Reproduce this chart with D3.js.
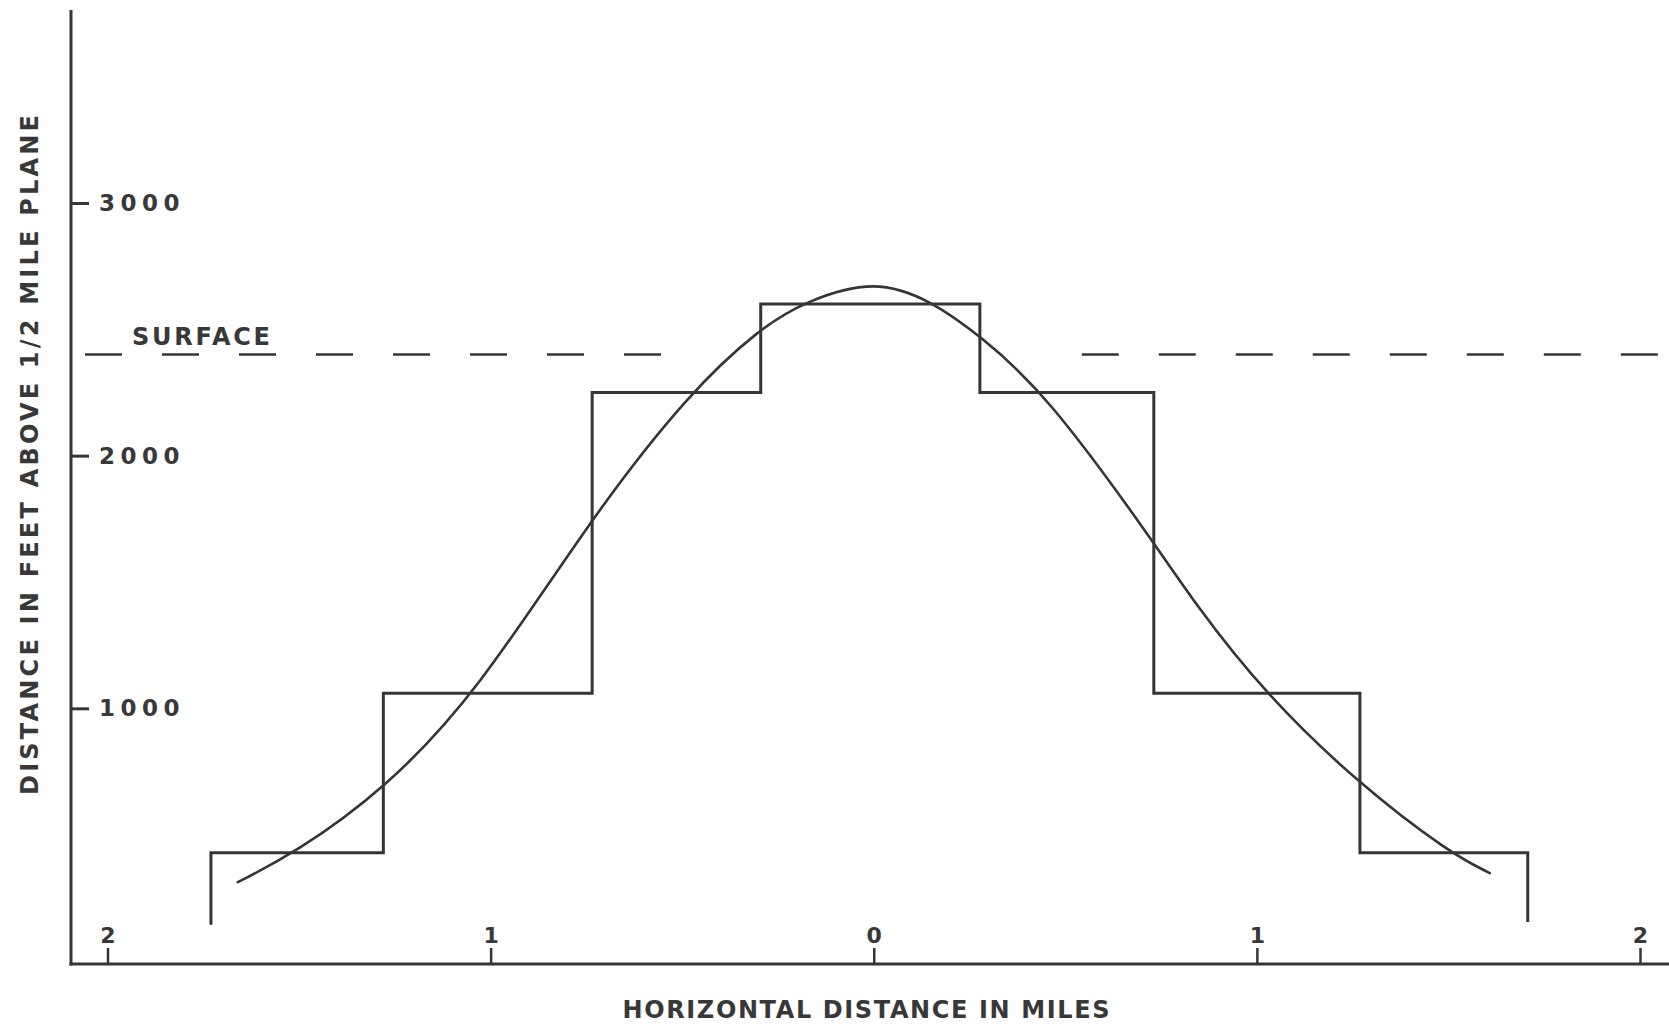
<!DOCTYPE html>
<html>
<head>
<meta charset="utf-8">
<script src="https://cdn.jsdelivr.net/npm/d3@7"></script>
<style>
  html, body { margin: 0; padding: 0; background: #fff; }
  svg { display: block; }
  text { font-family: "DejaVu Sans", sans-serif; fill: #383838; }
</style>
</head>
<body>
<div id="chart"></div>
<script>
// step profile: edges in miles, level (ft) of each block between edges
const stepEdges = [-1.73, -1.28, -0.735, -0.295, 0.277, 0.731, 1.269, 1.707];
const stepLevels = [428, 1060, 2250, 2600, 2250, 1060, 428];
const stepFoot = [143, 154];   // where the outer legs stop (left, right)

// smooth curve
const curveMiles = [-1.66, -1.511, -1.279, -1.036, -0.736, -0.48, -0.295, -0.18, 0.003, 0.154, 0.274, 0.447, 0.731, 0.831, 1.021, 1.269, 1.504, 1.608];
const curveFeet  = [312, 427, 676, 1060, 1758, 2252, 2506, 2610, 2700, 2610, 2478, 2252, 1658, 1429, 1057, 697, 427, 348];

// dashed surface line, broken over the dome
const surfaceLevel = 2400;
const surfaceGap = [-0.553, 0.543];

const yTicks = [1000, 2000, 3000];
const xTicks = [-2, -1, 0, 1, 2];
const xTickLabels = ["2", "1", "0", "1", "2"];

const width = 1669, height = 1026;
const ink = "#353535";

const svg = d3.select("#chart").append("svg")
  .attr("width", width)
  .attr("height", height);

const x = d3.scaleLinear().domain([-2, 2]).range([107.5, 1640]);
const y = d3.scaleLinear().domain([0, 3000]).range([961, 203]);

const axisX = 71;
const baseY = 964;   // drawn base line sits a touch below zero

// axis lines
svg.append("line")
  .attr("x1", axisX).attr("y1", 10)
  .attr("x2", axisX).attr("y2", baseY + 1.5)
  .attr("stroke", ink).attr("stroke-width", 3);
svg.append("line")
  .attr("x1", axisX - 1.5).attr("y1", baseY)
  .attr("x2", width).attr("y2", baseY)
  .attr("stroke", ink).attr("stroke-width", 3);

// y ticks (drawn inward, labels to the right)
const gy = svg.append("g")
  .attr("transform", `translate(${axisX},0)`)
  .call(d3.axisRight(y).tickValues(yTicks).tickSize(18).tickPadding(10).tickFormat(d3.format("d")));
gy.select(".domain").remove();
gy.selectAll(".tick line").attr("stroke", ink).attr("stroke-width", 3);
gy.selectAll(".tick text")
  .attr("font-size", 23)
  .attr("font-weight", "bold")
  .attr("letter-spacing", 5.5)
  .attr("fill", ink)
  .attr("font-family", "DejaVu Sans");

// x ticks (upward, labels above)
const gx = svg.append("g")
  .attr("transform", `translate(0,${baseY})`)
  .call(d3.axisTop(x).tickValues(xTicks).tickSize(16).tickPadding(5).tickFormat((d, i) => xTickLabels[i]));
gx.select(".domain").remove();
gx.selectAll(".tick line").attr("stroke", ink).attr("stroke-width", 2.5);
gx.selectAll(".tick text")
  .attr("font-size", 22)
  .attr("font-weight", "bold")
  .attr("fill", ink)
  .attr("font-family", "DejaVu Sans");

// surface dashed line
const dash = [37, 40];
function surfaceSeg(x0, x1, offset) {
  svg.append("line")
    .attr("x1", x0).attr("y1", y(surfaceLevel))
    .attr("x2", x1).attr("y2", y(surfaceLevel))
    .attr("stroke", ink).attr("stroke-width", 2.5)
    .attr("stroke-dasharray", dash.join(","))
    .attr("stroke-dashoffset", offset);
}
surfaceSeg(axisX, x(surfaceGap[0]), 63);
surfaceSeg(x(surfaceGap[1]), width, 0);

svg.append("text")
  .attr("x", 132).attr("y", y(surfaceLevel) - 10)
  .attr("font-size", 24).attr("font-weight", "bold")
  .attr("textLength", 138).attr("lengthAdjust", "spacing")
  .attr("fill", ink)
  .text("SURFACE");

// step profile
const stepPts = [[stepEdges[0], stepFoot[0]]];
stepLevels.forEach((lv, i) => {
  stepPts.push([stepEdges[i], lv]);
  stepPts.push([stepEdges[i + 1], lv]);
});
stepPts.push([stepEdges[stepEdges.length - 1], stepFoot[1]]);

svg.append("path")
  .datum(stepPts)
  .attr("fill", "none")
  .attr("stroke", ink)
  .attr("stroke-width", 3)
  .attr("stroke-linejoin", "miter")
  .attr("d", d3.line().x(d => x(d[0])).y(d => y(d[1])));

// smooth curve
const curvePts = curveMiles.map((m, i) => [m, curveFeet[i]]);
svg.append("path")
  .datum(curvePts)
  .attr("fill", "none")
  .attr("stroke", ink)
  .attr("stroke-width", 2.6)
  .attr("stroke-linecap", "round")
  .attr("d", d3.line().x(d => x(d[0])).y(d => y(d[1])).curve(d3.curveBasis));

// axis titles
svg.append("text")
  .attr("transform", "translate(38,455) rotate(-90)")
  .attr("text-anchor", "middle")
  .attr("font-size", 24).attr("font-weight", "bold")
  .attr("textLength", 680).attr("lengthAdjust", "spacing")
  .attr("fill", ink)
  .text("DISTANCE IN FEET ABOVE 1/2 MILE PLANE");

svg.append("text")
  .attr("x", 866).attr("y", 1018)
  .attr("text-anchor", "middle")
  .attr("font-size", 24).attr("font-weight", "bold")
  .attr("textLength", 487).attr("lengthAdjust", "spacing")
  .attr("fill", ink)
  .text("HORIZONTAL DISTANCE IN MILES");
</script>
</body>
</html>
